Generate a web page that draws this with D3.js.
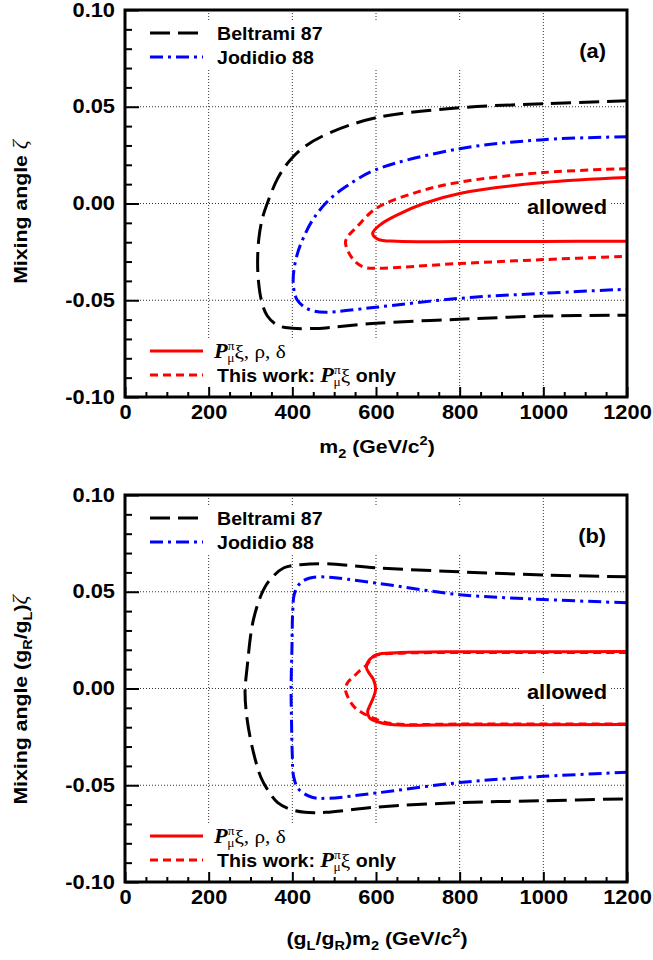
<!DOCTYPE html>
<html><head><meta charset="utf-8">
<script src="https://cdn.jsdelivr.net/npm/d3@7"></script>
<style>
html,body{margin:0;padding:0;background:#fff;}
svg{display:block;}
</style>
</head><body>
<svg id="chart" width="653" height="960"></svg>
<script>
// ---------- data (m2 in GeV/c^2, mixing angle) ----------
const xTicks = [0, 200, 400, 600, 800, 1000, 1200];
const xTickLabels = ["0", "200", "400", "600", "800", "1000", "1200"];
const yTicks = [-0.10, -0.05, 0.00, 0.05, 0.10];
const yTickLabels = ["-0.10", "-0.05", "0.00", "0.05", "0.10"];
const gridX = [200, 400, 600, 800, 1000];
const gridY = [-0.05, 0.00, 0.05];

// Panel (a)
const beltramiA = [[1200,0.0531],[1000,0.0515],[800,0.0495],[600,0.0443],[490,0.0366],[430,0.0295],[395,0.0225],[365,0.0130],[340,0.0000],[328,-0.0080],[320,-0.0180],[317,-0.0300],[319,-0.0400],[326,-0.0500],[340,-0.0580],[365,-0.0630],[400,-0.0645],[450,-0.0646],[480,-0.0643],[600,-0.0619],[800,-0.0598],[1000,-0.0582],[1200,-0.0577]];
const jodidioA = [[1200,0.0345],[1000,0.0330],[800,0.0283],[600,0.0175],[530,0.0090],[486,0.0015],[450,-0.0080],[427,-0.0175],[412,-0.0260],[404,-0.0340],[402,-0.0400],[405,-0.0460],[412,-0.0500],[430,-0.0537],[450,-0.0555],[480,-0.0562],[600,-0.0536],[800,-0.0490],[1000,-0.0464],[1200,-0.0443]];
const fullA = [[1200,0.0134],[1000,0.0108],[800,0.0052],[714,0.0000],[650,-0.0060],[610,-0.0110],[592,-0.0155],[605,-0.0185],[650,-0.0195],[800,-0.0197],[1000,-0.0196],[1200,-0.0195]];
const thisWorkA = [[1200,0.0180],[1000,0.0160],[800,0.0110],[700,0.0060],[600,-0.0026],[553,-0.0124],[533,-0.0170],[527,-0.0200],[534,-0.0250],[550,-0.0300],[572,-0.0330],[600,-0.0335],[800,-0.0310],[1000,-0.0290],[1200,-0.0273]];

// Panel (b)
const beltramiB = [[1200,0.0577],[1000,0.0587],[800,0.0603],[600,0.0624],[480,0.0645],[420,0.0640],[380,0.0624],[350,0.0570],[331,0.0510],[307,0.0356],[292,0.0110],[287,-0.0020],[292,-0.0160],[307,-0.0330],[325,-0.0460],[340,-0.0520],[365,-0.0590],[395,-0.0624],[430,-0.0640],[480,-0.0640],[600,-0.0613],[800,-0.0590],[1000,-0.0580],[1200,-0.0570]];
const jodidioB = [[1200,0.0443],[1000,0.0460],[800,0.0485],[600,0.0545],[470,0.0577],[440,0.0570],[419,0.0545],[405,0.0490],[401,0.0400],[399,0.0200],[397,0.0000],[398,-0.0160],[400,-0.0350],[403,-0.0454],[415,-0.0520],[447,-0.0562],[487,-0.0567],[600,-0.0540],[800,-0.0486],[1000,-0.0454],[1200,-0.0433]];
const fullB = [[1200,0.0191],[1000,0.0190],[800,0.0190],[650,0.0185],[601,0.0175],[585,0.0150],[577,0.0110],[585,0.0075],[594,0.0046],[599,-0.0005],[594,-0.0045],[585,-0.0090],[580,-0.0120],[584,-0.0150],[594,-0.0165],[635,-0.0186],[800,-0.0187],[1200,-0.0186]];
const thisWorkB = [[1200,0.0186],[1000,0.0186],[800,0.0186],[650,0.0182],[601,0.0172],[588,0.0150],[577,0.0120],[560,0.0090],[546,0.0060],[532,0.0030],[527,-0.0005],[532,-0.0040],[539,-0.0070],[550,-0.0100],[563,-0.0120],[580,-0.0140],[601,-0.0160],[640,-0.0182],[800,-0.0184],[1200,-0.0183]];

const legendTop = ["Beltrami 87", "Jodidio 88"];
const panelLabels = ["(a)", "(b)"];

// ---------- drawing ----------
const SX = 1.12;
const SANS = "'Liberation Sans', Arial, Helvetica, sans-serif";
const SERIF = "'Liberation Serif', 'Times New Roman', serif";
const svg = d3.select("#chart");
svg.append("rect").attr("width",653).attr("height",960).attr("fill","#fff");

const L = 125, R = 627, PH = 387;
const x = d3.scaleLinear().domain([0,1200]).range([L,R]);

const styles = {
  beltrami: {color:"#000000", dash:"20,8", w:3},
  jodidio:  {color:"#0000ff", dash:"13,5,3,5", w:3},
  full:     {color:"#ff0000", dash:null, w:3},
  thisWork: {color:"#ff0000", dash:"8,5", w:3}
};

function addText(g, px, py, opts) {
  const t = g.append("text")
    .attr("transform", `translate(${px},${py})` + (opts.rotate ? " rotate(-90)" : "") + ` scale(${SX},1)`)
    .attr("font-family", opts.family || SANS)
    .attr("font-weight", opts.weight || "bold")
    .attr("font-size", opts.size || 19)
    .attr("text-anchor", opts.anchor || "start")
    .attr("fill", "#000");
  if (opts.text !== undefined) t.text(opts.text);
  return t;
}
function span(t, s, o) {
  const sp = t.append("tspan").text(s);
  if (o) for (const k in o) sp.attr(k, o[k]);
  return sp;
}

const panels = [
  {top:10, label:panelLabels[0], beltrami:beltramiA, jodidio:jodidioA, full:fullA, thisWork:thisWorkA, xtitle:"a", ytitle:"a"},
  {top:495, label:panelLabels[1], beltrami:beltramiB, jodidio:jodidioB, full:fullB, thisWork:thisWorkB, xtitle:"b", ytitle:"b"}
];

panels.forEach(p => {
  const top = p.top, bottom = top + PH;
  const y = d3.scaleLinear().domain([-0.10,0.10]).range([bottom, top]);
  const g = svg.append("g");

  // grid
  g.selectAll(".gx").data(gridX).join("line")
    .attr("x1", d=>x(d)).attr("x2", d=>x(d)).attr("y1", top).attr("y2", bottom)
    .attr("stroke","#333").attr("stroke-width",1).attr("stroke-dasharray","1,2");
  g.selectAll(".gy").data(gridY).join("line")
    .attr("y1", d=>y(d)).attr("y2", d=>y(d)).attr("x1", L).attr("x2", R)
    .attr("stroke","#333").attr("stroke-width",1).attr("stroke-dasharray","1,2");

  // masks behind legends / labels
  g.append("rect").attr("x",L+2).attr("y",top+10).attr("width",375).attr("height",48).attr("fill","#fff");
  g.append("rect").attr("x",L+2).attr("y",bottom-58).attr("width",313).attr("height",56).attr("fill","#fff");
  g.append("rect").attr("x",521).attr("y",y(0)-15).attr("width",90).attr("height",31).attr("fill","#fff");

  // curves
  const line = d3.line().x(d=>x(d[0])).y(d=>y(d[1])).curve(d3.curveCatmullRom.alpha(0.5));
  ["beltrami","jodidio","thisWork","full"].forEach(k => {
    const s = styles[k];
    g.append("path").datum(p[k]).attr("d", line)
      .attr("fill","none").attr("stroke", s.color).attr("stroke-width", s.w)
      .attr("stroke-dasharray", s.dash);
  });

  // frame
  g.append("rect").attr("x",L).attr("y",top).attr("width",R-L).attr("height",PH)
    .attr("fill","none").attr("stroke","#000").attr("stroke-width",3);

  // axes (ticks inside)
  const xMinor = d3.range(0,1201,50).filter(v => v % 200 !== 0);
  const yMinor = d3.range(-10,11,1).map(v=>v/100).filter(v => Math.abs(Math.round(v*100)) % 5 !== 0);
  const ax = g.append("g").attr("transform",`translate(0,${bottom})`)
    .call(d3.axisBottom(x).tickValues(xTicks).tickSize(-10).tickPadding(8).tickFormat((d,i)=>xTickLabels[i]));
  const axm = g.append("g").attr("transform",`translate(0,${bottom})`)
    .call(d3.axisBottom(x).tickValues(xMinor).tickSize(-5).tickFormat(""));
  const ay = g.append("g").attr("transform",`translate(${L},0)`)
    .call(d3.axisLeft(y).tickValues(yTicks).tickSize(-14).tickPadding(10).tickFormat((d,i)=>yTickLabels[i]));
  const aym = g.append("g").attr("transform",`translate(${L},0)`)
    .call(d3.axisLeft(y).tickValues(yMinor).tickSize(-7).tickFormat(""));
  [ax,axm,ay,aym].forEach(a => {
    a.select(".domain").remove();
    a.selectAll("line").attr("stroke","#000").attr("stroke-width",2);
    a.selectAll("text").attr("font-family",SANS).attr("font-weight","bold").attr("font-size",19.5).attr("fill","#000");
  });
  ax.selectAll("text").attr("transform",`scale(${SX},1)`);
  ay.selectAll("text").attr("x", -10/SX).attr("transform",`scale(${SX},1)`);

  // top legend
  const legG = g.append("g");
  [["beltrami",top+23],["jodidio",top+47]].forEach(([k,ly],i) => {
    const s = styles[k];
    legG.append("line").attr("x1",150).attr("x2",203).attr("y1",ly).attr("y2",ly)
      .attr("stroke",s.color).attr("stroke-width",s.w).attr("stroke-dasharray",s.dash);
    addText(legG, 217, ly+7, {text:legendTop[i], size:17.5});
  });
  // bottom legend
  [["full",bottom-46],["thisWork",bottom-22]].forEach(([k,ly]) => {
    const s = styles[k];
    legG.append("line").attr("x1",150).attr("x2",203).attr("y1",ly).attr("y2",ly)
      .attr("stroke",s.color).attr("stroke-width",s.w).attr("stroke-dasharray",s.dash);
  });
  {
    const t = addText(legG, 214, bottom-39, {size:17.5});
    span(t,"P",{"font-family":SERIF,"font-style":"italic","font-weight":"bold","font-size":20});
    span(t,"π",{"font-family":SERIF,"font-weight":"normal","font-size":12,"dy":-8});
    span(t,"μ",{"font-family":SERIF,"font-weight":"normal","font-size":12,"dx":-6.5,"dy":12});
    span(t,"ξ, ρ, δ",{"font-family":SERIF,"font-weight":"normal","font-size":19,"dy":-4});
  }
  {
    const t = addText(legG, 217, bottom-15, {size:17.5});
    span(t,"This work: ");
    span(t,"P",{"font-family":SERIF,"font-style":"italic","font-weight":"bold","font-size":20});
    span(t,"π",{"font-family":SERIF,"font-weight":"normal","font-size":12,"dy":-8});
    span(t,"μ",{"font-family":SERIF,"font-weight":"normal","font-size":12,"dx":-6.5,"dy":12});
    span(t,"ξ",{"font-family":SERIF,"font-weight":"normal","font-size":19,"dy":-4});
    span(t," only");
  }

  // panel label and "allowed"
  addText(g, 606, top+48, {text:p.label, size:19.5, anchor:"end"});
  addText(g, 607, y(0)+10, {text:"allowed", size:19.5, anchor:"end"});

  // axis titles
  if (p.xtitle === "a") {
    const t = addText(g, 377, bottom+56, {size:19, anchor:"middle"});
    span(t,"m");
    span(t,"2",{"font-size":13,"dy":5});
    span(t," (GeV/c",{"dy":-5});
    span(t,"2",{"font-size":13,"dy":-8});
    span(t,")",{"dy":8});
  } else {
    const t = addText(g, 377, bottom+63, {size:19, anchor:"middle"});
    span(t,"(g");
    span(t,"L",{"font-size":13,"dy":5});
    span(t,"/g",{"dy":-5});
    span(t,"R",{"font-size":13,"dy":5});
    span(t,")m",{"dy":-5});
    span(t,"2",{"font-size":13,"dy":5});
    span(t," (GeV/c",{"dy":-5});
    span(t,"2",{"font-size":13,"dy":-8});
    span(t,")",{"dy":8});
  }
  if (p.ytitle === "a") {
    const t = addText(g, 27, top+202, {size:19, anchor:"middle", rotate:true});
    span(t,"Mixing angle ");
    span(t,"ζ",{"font-family":SERIF,"font-style":"italic","font-weight":"normal","font-size":20});
  } else {
    const t = addText(g, 27, top+205, {size:19, anchor:"middle", rotate:true});
    span(t,"Mixing angle (g");
    span(t,"R",{"font-size":13,"dy":5});
    span(t,"/g",{"dy":-5});
    span(t,"L",{"font-size":13,"dy":5});
    span(t,")",{"dy":-5});
    span(t,"ζ",{"font-family":SERIF,"font-style":"italic","font-weight":"normal","font-size":20});
  }
});
</script>
</body></html>
